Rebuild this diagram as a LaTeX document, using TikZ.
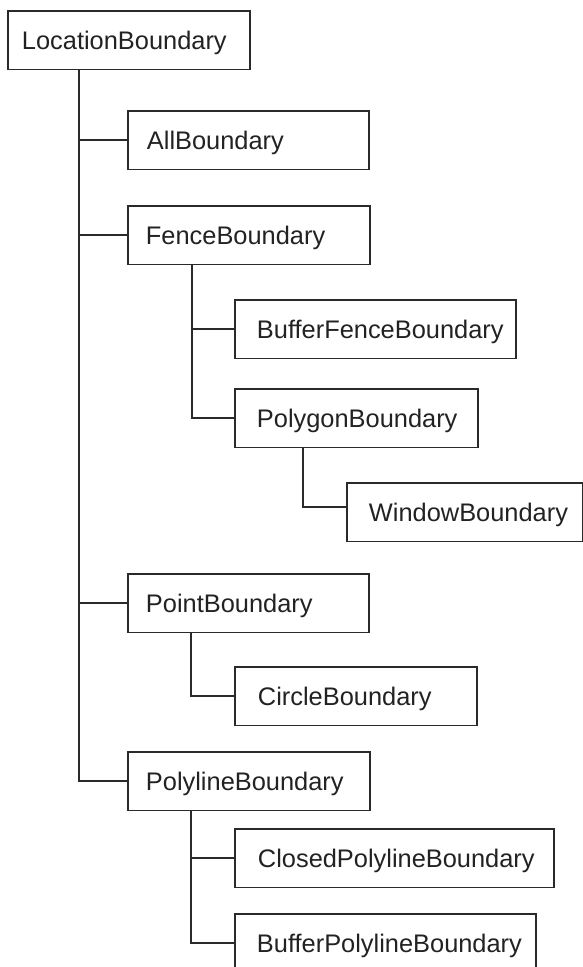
\documentclass[tikz,border=0pt]{standalone}
\usepackage{fontspec}
\setmainfont{Liberation Sans}
\definecolor{linec}{HTML}{2A2A2A}
\definecolor{textc}{HTML}{222222}
\newcommand{\bxt}[3]{\makebox[#1pt][l]{\hskip#2pt #3}}
\begin{document}
\begin{tikzpicture}[x=1pt,y=-1pt,
  bx/.style={draw=linec, line width=1.9pt, rectangle, anchor=north west,
    inner sep=0pt, text height=38.5pt, text depth=20pt,
    font=\fontsize{25.4}{30}\selectfont, text=textc},
  conn/.style={draw=linec, line width=1.9pt}]
\useasboundingbox (0,0) rectangle (583,967);
\node[bx] (loc) at (7,10) {\bxt{242}{14}{LocationBoundary}};
\node[bx] (all) at (127,110) {\bxt{241}{19}{AllBoundary}};
\node[bx] (fence) at (127,205) {\bxt{242}{18}{FenceBoundary}};
\node[bx] (buffence) at (234,299) {\bxt{281}{22}{BufferFenceBoundary}};
\node[bx] (polygon) at (234,388) {\bxt{243}{22}{PolygonBoundary}};
\node[bx] (window) at (346,482) {\bxt{235.5}{22}{WindowBoundary}};
\node[bx] (point) at (127,573) {\bxt{241}{18}{PointBoundary}};
\node[bx] (circle) at (234,666) {\bxt{242}{23}{CircleBoundary}};
\node[bx] (polyline) at (127,751) {\bxt{242}{18}{PolylineBoundary}};
\node[bx] (closed) at (234,828) {\bxt{319}{23}{ClosedPolylineBoundary}};
\node[bx] (bufpoly) at (234,913) {\bxt{301}{22}{BufferPolylineBoundary}};
\draw[conn] ([xshift=72pt]loc.south west) |- (all.west);
\draw[conn] ([xshift=72pt]loc.south west) |- (fence.west);
\draw[conn] ([xshift=72pt]loc.south west) |- (point.west);
\draw[conn] ([xshift=72pt]loc.south west) |- (polyline.west);
\draw[conn] ([xshift=65pt]fence.south west) |- (buffence.west);
\draw[conn] ([xshift=65pt]fence.south west) |- (polygon.west);
\draw[conn] ([xshift=69pt]polygon.south west) |- ([yshift=5.5pt]window.west);
\draw[conn] ([xshift=64pt]point.south west) |- (circle.west);
\draw[conn] ([xshift=64pt]polyline.south west) |- (closed.west);
\draw[conn] ([xshift=64pt]polyline.south west) |- (bufpoly.west);
\end{tikzpicture}
\end{document}
